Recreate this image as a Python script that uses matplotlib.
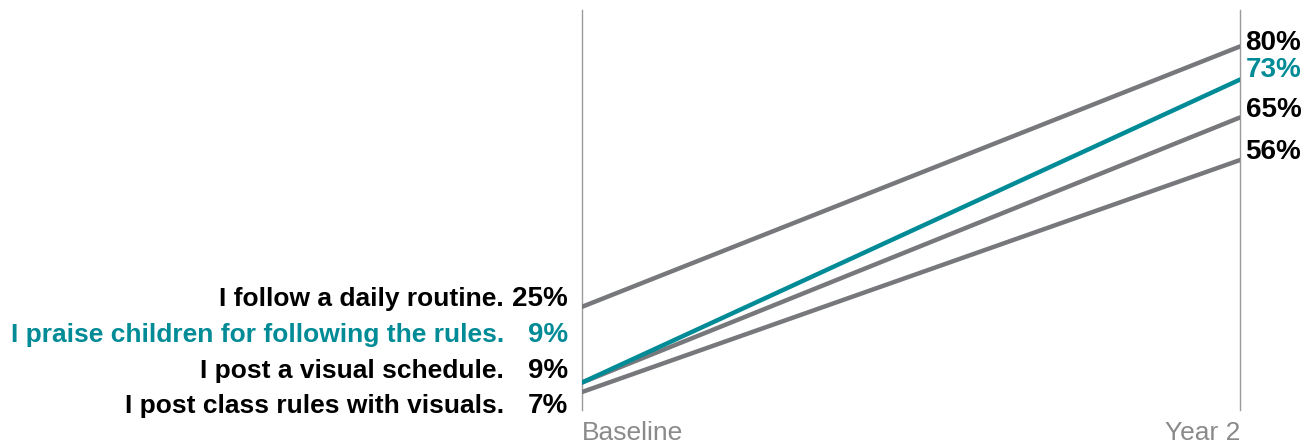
import matplotlib
matplotlib.use("Agg")
import matplotlib.pyplot as plt

# data
items = ["I follow a daily routine.",
         "I praise children for following the rules.",
         "I post a visual schedule.",
         "I post class rules with visuals."]
baseline = [25, 9, 9, 7]
year2 = [80, 73, 65, 56]
periods = ["Baseline", "Year 2"]

GRAY = "#77787b"
TEAL = "#008b96"
colors = [GRAY, TEAL, GRAY, GRAY]
text_colors = ["black", TEAL, "black", "black"]

# label positions (nudged apart so they don't overlap)
left_label_y = [26.6, 19.0, 11.4, 4.0]
right_label_y = [80.8, 75.0, 66.6, 57.8]

plt.rcParams['font.family'] = ['Liberation Sans', 'DejaVu Sans']

fig = plt.figure(figsize=(13.12, 4.44), dpi=100)
ax = fig.add_axes([582 / 1312, 1 - 410 / 444, (1240 - 582) / 1312, 400 / 444])

# draw teal line last so it sits on top
order = [0, 2, 3, 1]
for i in order:
    ax.plot([0, 1], [baseline[i], year2[i]], color=colors[i], lw=3.2,
            solid_capstyle='round', zorder=3 if i == 1 else 2)

ax.axvline(0, color="#9a9a9a", lw=1, zorder=1, clip_on=False)
ax.axvline(1, color="#9a9a9a", lw=1, zorder=1, clip_on=False)

for i in range(len(items)):
    ax.annotate(f"{baseline[i]}%", xy=(0, left_label_y[i]), xytext=(-10, 0),
                textcoords='offset points', ha='right', va='center',
                fontsize=20, fontweight='bold', color=text_colors[i])
    ax.annotate(items[i], xy=(0, left_label_y[i]), xytext=(-56, 0),
                textcoords='offset points', ha='right', va='center',
                fontsize=19, fontweight='bold', color=text_colors[i])
    ax.annotate(f"{year2[i]}%", xy=(1, right_label_y[i]), xytext=(4, 0),
                textcoords='offset points', ha='left', va='center',
                fontsize=20, fontweight='bold', color=text_colors[i])

ax.set_xlim(0, 1)
ax.set_ylim(3.2, 87.7)
ax.set_xticks([0, 1])
ax.set_xticklabels(periods, fontsize=19, color="#8a8a8a")
ax.get_xticklabels()[0].set_ha('left')
ax.get_xticklabels()[1].set_ha('right')
ax.tick_params(axis='x', length=0, pad=8)
ax.set_yticks([])
for s in ax.spines.values():
    s.set_visible(False)
ax.patch.set_alpha(0)

fig.savefig("out.png", dpi=100)
